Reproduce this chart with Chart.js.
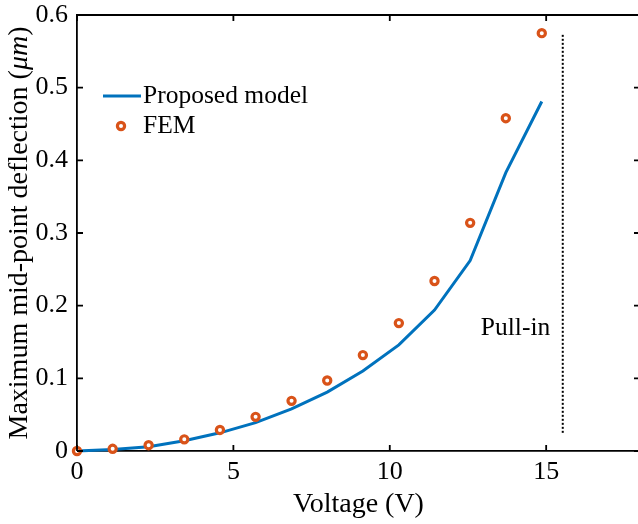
<!DOCTYPE html>
<html>
<head>
<meta charset="utf-8">
<script src="https://cdn.jsdelivr.net/npm/chart.js@4/dist/chart.umd.min.js"></script>
<style>
  html, body { margin: 0; padding: 0; background: #fff; overflow: hidden; }
  #wrap { width: 650px; height: 524px; }
</style>
</head>
<body>
<div id="wrap"><canvas id="myChart"></canvas></div>
<script>
// data
const voltage = [0, 1.14, 2.29, 3.43, 4.57, 5.71, 6.86, 8.0, 9.14, 10.29, 11.43, 12.57, 13.71, 14.86];
const modelDeflection = [0, 0.002, 0.006, 0.014, 0.025, 0.039, 0.058, 0.081, 0.110, 0.146, 0.194, 0.262, 0.383, 0.481];
const femDeflection = [0, 0.003, 0.008, 0.016, 0.029, 0.047, 0.069, 0.097, 0.132, 0.176, 0.234, 0.314, 0.458, 0.575];
const pullInVoltage = [15.53, 15.53];
const pullInDeflection = [0.025, 0.575];
const xTicks = [0, 5, 10, 15];
const yTicks = [0, 0.1, 0.2, 0.3, 0.4, 0.5, 0.6];
const seriesNames = ['Proposed model', 'FEM'];
const pullInLabel = 'Pull-in';

const BLUE = '#0072BD';
const ORANGE = '#D95319';
const FONT = '"Liberation Serif", "Times New Roman", serif';

function toPoints(xs, ys) {
    return xs.map((x, i) => ({ x: x, y: ys[i] }));
}

// inward ticks + top/right box like matlab
const boxPlugin = {
    id: 'box',
    afterDraw(chart) {
        const ctx = chart.ctx;
        const a = chart.chartArea;
        const xs = chart.scales.x, ys = chart.scales.y;
        const len = 6;
        ctx.save();
        ctx.strokeStyle = '#000';
        ctx.lineWidth = 1.8;
        ctx.beginPath();
        ctx.moveTo(a.left, a.top); ctx.lineTo(a.right, a.top); ctx.lineTo(a.right, a.bottom);
        xTicks.forEach(v => {
            const px = xs.getPixelForValue(v);
            ctx.moveTo(px, a.bottom); ctx.lineTo(px, a.bottom - len);
            ctx.moveTo(px, a.top); ctx.lineTo(px, a.top + len);
        });
        yTicks.forEach(v => {
            const py = ys.getPixelForValue(v);
            ctx.moveTo(a.left, py); ctx.lineTo(a.left + len, py);
            ctx.moveTo(a.right, py); ctx.lineTo(a.right - len, py);
        });
        ctx.stroke();
        ctx.restore();
    }
};

// legend, pull-in text and y title (with italic mu)
const textPlugin = {
    id: 'texts',
    afterDraw(chart) {
        const ctx = chart.ctx;
        const xs = chart.scales.x, ys = chart.scales.y;
        ctx.save();
        ctx.fillStyle = '#000';
        ctx.textBaseline = 'middle';

        // legend
        ctx.font = '25.5px ' + FONT;
        ctx.strokeStyle = BLUE;
        ctx.lineWidth = 3;
        ctx.beginPath();
        ctx.moveTo(103, 96); ctx.lineTo(141, 96);
        ctx.stroke();
        ctx.fillText(seriesNames[0], 143, 96);
        ctx.strokeStyle = ORANGE;
        ctx.lineWidth = 3.2;
        ctx.beginPath();
        ctx.arc(121, 126, 3.6, 0, Math.PI * 2);
        ctx.stroke();
        ctx.fillText(seriesNames[1], 143, 126);

        // pull-in note
        ctx.textAlign = 'right';
        ctx.fillText(pullInLabel, xs.getPixelForValue(15.13), ys.getPixelForValue(0.169));

        // y title
        ctx.textAlign = 'left';
        const parts = [
            ['Maximum mid-point deflection (', '28px ' + FONT],
            ['\u03BCm', 'italic 28px ' + FONT],
            [')', '28px ' + FONT]
        ];
        let total = 0;
        parts.forEach(p => { ctx.font = p[1]; total += ctx.measureText(p[0]).width; });
        ctx.translate(20, (chart.chartArea.top + chart.chartArea.bottom) / 2);
        ctx.rotate(-Math.PI / 2);
        let x = -total / 2;
        parts.forEach(p => {
            ctx.font = p[1];
            ctx.fillText(p[0], x, 0);
            x += ctx.measureText(p[0]).width;
        });
        ctx.restore();
    }
};

const config = {
    type: 'scatter',
    data: {
        datasets: [{
            label: seriesNames[0],
            data: toPoints(voltage, modelDeflection),
            showLine: true,
            borderColor: BLUE,
            borderWidth: 3,
            pointRadius: 0,
            tension: 0,
            clip: 4,
            order: 2
        },
        {
            label: seriesNames[1],
            data: toPoints(voltage, femDeflection),
            showLine: false,
            pointStyle: 'circle',
            pointRadius: 3.6,
            pointBorderWidth: 3.2,
            pointBorderColor: ORANGE,
            pointBackgroundColor: '#fff',
            clip: false,
            order: 1
        },
        {
            label: pullInLabel,
            data: toPoints(pullInVoltage, pullInDeflection),
            showLine: true,
            borderColor: '#000',
            borderWidth: 2,
            borderDash: [2, 2],
            pointRadius: 0,
            order: 3
        }]
    },
    options: {
        responsive: true,
        maintainAspectRatio: false,
        animation: false,
        layout: { padding: { top: 15, right: 10, left: 0, bottom: 0 } },
        plugins: {
            legend: { display: false },
            tooltip: { enabled: false }
        },
        scales: {
            x: {
                type: 'linear',
                min: 0,
                max: 18,
                afterBuildTicks: s => { s.ticks = xTicks.map(v => ({ value: v })); },
                afterFit: s => { s.height = 73; s.paddingLeft = 0; s.paddingRight = 0; },
                grid: { drawOnChartArea: false, drawTicks: false },
                border: { display: true, color: '#000', width: 1.8 },
                ticks: {
                    color: '#000',
                    padding: 6,
                    maxRotation: 0,
                    font: { family: FONT, size: 26 },
                    callback: v => String(v)
                },
                title: {
                    display: true,
                    text: 'Voltage (V)',
                    color: '#000',
                    font: { family: FONT, size: 28 },
                    padding: { top: 0, bottom: 3 }
                }
            },
            y: {
                type: 'linear',
                min: 0,
                max: 0.6,
                afterBuildTicks: s => { s.ticks = yTicks.map(v => ({ value: v })); },
                afterFit: s => { s.width = 77; s.paddingTop = 0; s.paddingBottom = 0; },
                grid: { drawOnChartArea: false, drawTicks: false },
                border: { display: true, color: '#000', width: 1.8 },
                ticks: {
                    color: '#000',
                    padding: 9,
                    font: { family: FONT, size: 26 },
                    callback: v => (v === 0 ? '0' : v.toFixed(1))
                }
            }
        }
    },
    plugins: [boxPlugin, textPlugin]
};

new Chart(document.getElementById('myChart'), config);
</script>
</body>
</html>
